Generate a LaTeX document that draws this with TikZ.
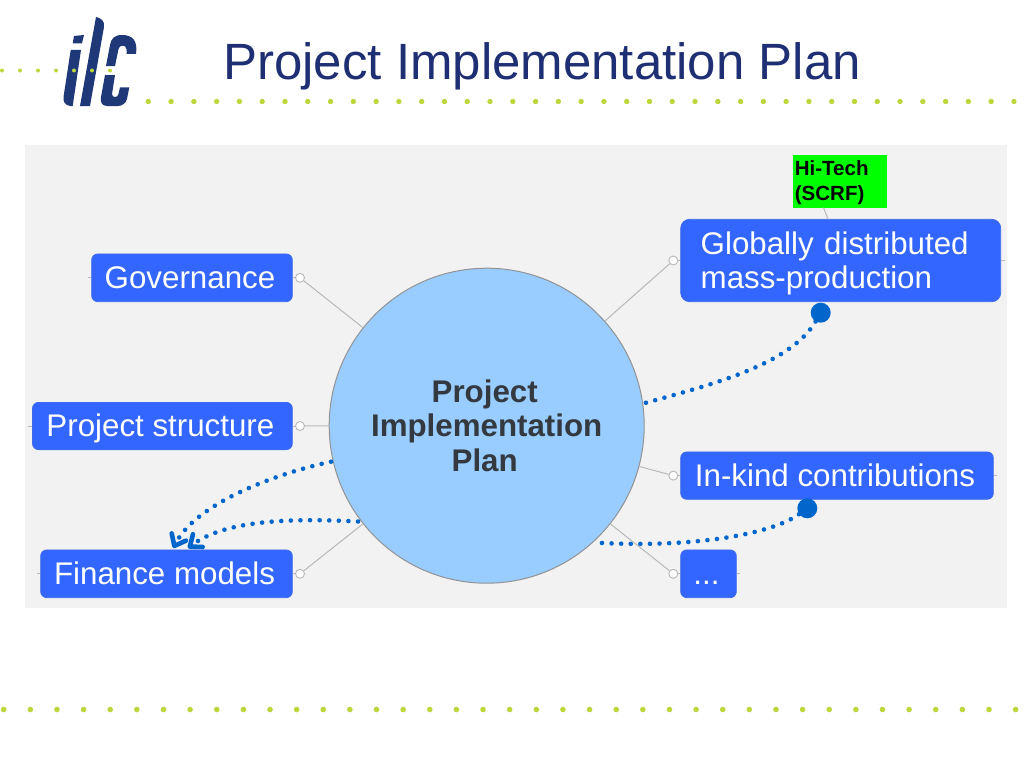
\documentclass[tikz,border=0pt]{standalone}
\usepackage{fontspec}
\setmainfont{Liberation Sans}
\usetikzlibrary{arrows.meta}
\definecolor{ilcblue}{HTML}{1F3878}
\definecolor{titleblue}{HTML}{1F2F73}
\definecolor{ilcgreen}{HTML}{BCD63C}
\definecolor{panelgray}{HTML}{F2F2F2}
\definecolor{boxblue}{HTML}{3366FF}
\definecolor{hubblue}{HTML}{99CCFF}
\definecolor{hubtext}{HTML}{33393F}
\definecolor{linkblue}{HTML}{0066CC}
\definecolor{linegray}{HTML}{B8B8B8}
\tikzset{
  topic/.style={draw=boxblue!85!gray,line width=.8pt,fill=boxblue,text=white,rounded corners=6pt,
    inner sep=0pt,font=\fontsize{31.3}{34}\selectfont},
  oneline/.style={text height=25pt,text depth=4pt,execute at end node=\hspace*{4pt}},
  hub/.style={circle,draw=gray!85,line width=1pt,fill=hubblue,minimum size=315pt,inner sep=0pt,
    align=center,text=hubtext,font=\fontsize{31.3}{34.3}\selectfont\bfseries},
  knob/.style={circle,draw=linegray,line width=.9pt,fill=white,minimum size=9pt,inner sep=0pt},
  spot/.style={circle,fill=linkblue,minimum size=20pt,inner sep=0pt},
  branch/.style={draw=linegray,line width=1pt},
  link/.style={draw=linkblue,line width=4.6pt,line cap=round,dash pattern=on 0pt off 9.6pt},
  linkhead/.style={-{Straight Barb[length=10pt,width=16pt,line width=4.6pt,round,color=linkblue]}}
}
\begin{document}
\begin{tikzpicture}[x=1pt,y=-1pt,>=stealth]
        \useasboundingbox (0,0) rectangle (1024,768);
        \fill[white] (0,0) rectangle (1024,768);
        % rows of dots
        \foreach \k in {0,...,38}
                \fill[ilcgreen] (148.3+22.78*\k,101.5) circle (2.7);
        \foreach \k in {0,...,38}
                \fill[ilcgreen] (3.7+26.63*\k,709.5) circle (2.8);
        % logo
        \fill[ilcblue] (74,36) -- (84,35) -- (82,43.3) -- (72.7,43.3) -- cycle;
        \fill[ilcblue] (70.7,50) -- (81,50) -- (72.7,106) -- (70,106) .. controls (65,105) and (63,102) .. (63.5,97) -- cycle;
        \fill[ilcblue] (96,17) .. controls (101,18) and (105,21) .. (104,27) -- (90,106) -- (80,106) -- cycle;
        \fill[ilcblue] (106,66) -- (115,66) -- (118.5,49) .. controls (119,45) and (126,44) .. (126.5,49) -- (126.5,54) -- (136,54)
                .. controls (138,40) and (132,35) .. (122,35) .. controls (114,35) and (111,39) .. (110,45) -- cycle;
        \fill[ilcblue] (105,75) -- (115,75) -- (112,94) .. controls (112,98) and (118,98) .. (118.5,94) -- (120,87.3) -- (129.3,87.3)
                -- (127,99) .. controls (126,103) and (122,106) .. (118,106) -- (107,106) .. controls (102,106) and (100,102) .. (101,97) -- cycle;
        \foreach \k in {0,...,6}
                \fill[ilcgreen] (2+18*\k,70.5) circle (2);
        \node[anchor=west,inner sep=0pt,text=titleblue,font=\fontsize{51}{60}\selectfont] (title) at (223,66) {Project Implementation Plan};
        % panel
        \fill[panelgray] (25,145) rectangle (1007,608);
        % centre and topics
        \node[hub] (plan) at (486.7,425.7) {Project\hspace*{4pt}\\Implementation\hspace*{4pt}\\Plan\hspace*{4pt}};
        \node[topic,oneline,minimum width=200.6pt,minimum height=47.7pt] (gov) at (192,277.8) {Governance};
        \node[topic,oneline,minimum width=259.8pt,minimum height=47.2pt] (struct) at (162.4,426) {Project structure};
        \node[topic,oneline,minimum width=251.6pt,minimum height=47.7pt] (fin) at (166.5,573.8) {Finance models};
        \node[topic,rounded corners=9pt,minimum width=320pt,minimum height=82.4pt,inner xsep=20pt,text width=280pt,text depth=34.6pt,align=left] (glob) at (840.7,260.5) {Globally distributed\\mass-production};
        \node[topic,oneline,minimum width=312.6pt,minimum height=47.3pt] (kind) at (837,475.6) {In-kind contributions};
        \node[topic,oneline,minimum width=55.6pt,minimum height=47.7pt] (more) at (708.5,573.8) {...};
        \node[fill=green,inner xsep=2pt,inner ysep=0pt,text width=89.6pt,text depth=27pt,minimum height=52.5pt,anchor=north west,align=left,text=black,font=\fontsize{20.5}{25}\selectfont\bfseries] (tech) at (792.7,155) {Hi-Tech\\(SCRF)};
        % knobs
        \node[knob] (govk) at (300,277.8) {};
        \node[knob] (structk) at (300,426) {};
        \node[knob] (fink) at (300,573.8) {};
        \node[knob] (globk) at (673.3,260.5) {};
        \node[knob] (kindk) at (673.3,475.6) {};
        \node[knob] (morek) at (673.3,573.8) {};
        % free ends
        \coordinate (gove) at (88,277.8);
        \coordinate (structe) at (28,426);
        \coordinate (fine) at (37,573.8);
        \coordinate (globe) at (1005,260.5);
        \coordinate (kinde) at (997,475.6);
        \coordinate (moree) at (740,573.8);
        \coordinate (techa) at (823.5,207.5);
        \coordinate (techb) at (828,219.3);
        %
        \foreach \a/\b in {govk/plan,structk/plan,fink/plan,globk/plan,kindk/plan,morek/plan,gov/govk,struct/structk,fin/fink,glob/globk,kind/kindk,more/morek,gov/gove,struct/structe,fin/fine,glob/globe,kind/kinde,more/moree,techa/techb}
                \draw[branch] (\a) -- (\b);
        % dotted links
        \node[spot] (globs) at (820.7,312.7) {};
        \node[spot] (kinds) at (807.3,508.3) {};
        \coordinate (outa) at (645,403);
        \coordinate (outb) at (597,542.7);
        \coordinate (ina) at (331,461.7);
        \coordinate (inb) at (358,521.5);
        \coordinate (finx) at (173.3,548);
        \coordinate (finy) at (188,548);
        \draw[link] (globs) .. controls (790,365) and (710,385) .. (outa);
        \draw[link] (kinds) .. controls (770,535) and (690,548) .. (outb);
        \draw[link,linkhead] (ina) .. controls (270,475) and (195,505) .. (finx);
        \draw[link,linkhead] (inb) .. controls (290,518) and (225,520) .. (finy);
        \end{tikzpicture}
\end{document}
